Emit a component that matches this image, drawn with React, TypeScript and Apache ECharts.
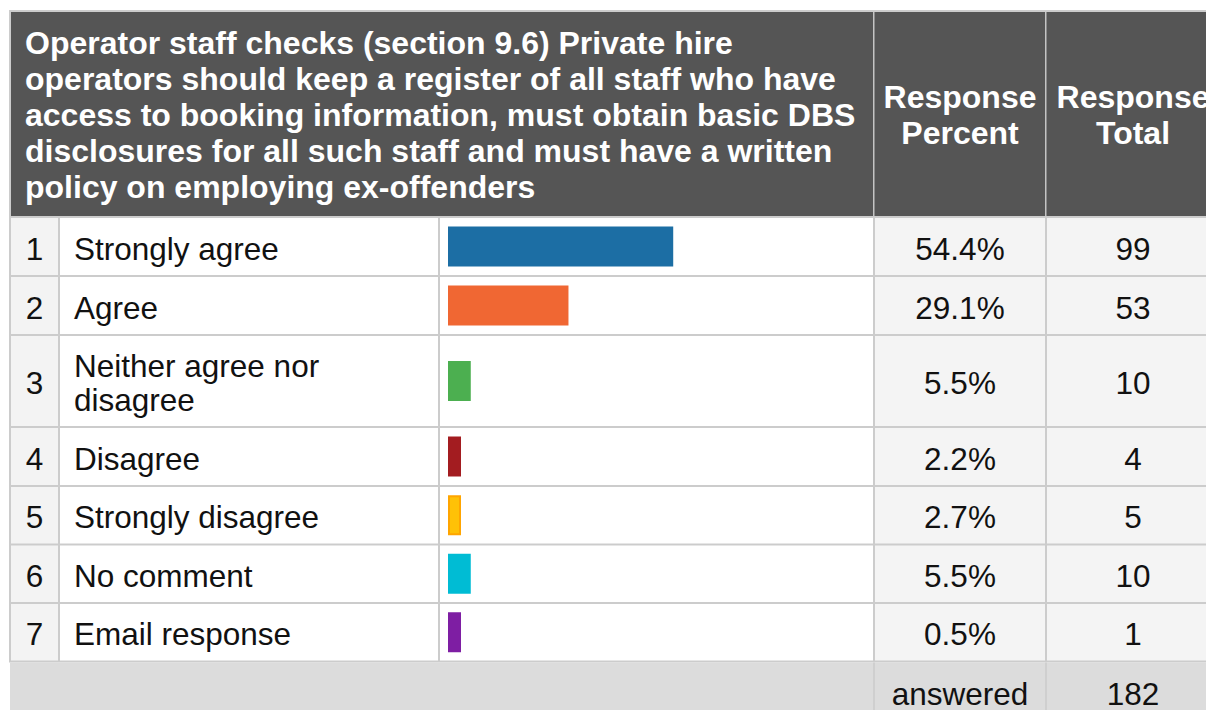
import React, { useEffect, useRef } from "react";
import * as echarts from "echarts";

// ---------- data ----------
const questionTitle =
  "Operator staff checks (section 9.6) Private hire\noperators should keep a register of all staff who have\naccess to booking information, must obtain basic DBS\ndisclosures for all such staff and must have a written\npolicy on employing ex-offenders";
const columnHeaders = ["Response\nPercent", "Response\nTotal"];
const answerNumbers = ["1", "2", "3", "4", "5", "6", "7"];
const answerLabels = [
  "Strongly agree",
  "Agree",
  "Neither agree nor\ndisagree",
  "Disagree",
  "Strongly disagree",
  "No comment",
  "Email response",
];
const responsePercent = [54.4, 29.1, 5.5, 2.2, 2.7, 5.5, 0.5];
const responseTotal = [99, 53, 10, 4, 5, 10, 1];
const answeredLabel = "answered";
const answeredTotal = 182;
const barColors = ["#1C6EA4", "#F06733", "#4CAF50", "#A31C20", "#FFC107", "#00BCD4", "#7E1EA3"];
const barBorders = ["", "", "", "", "#FFA500", "", ""];

// ---------- layout ----------
const FONT = '"Liberation Sans", Arial, Helvetica, sans-serif';
const FS = 31.5;
const FS_HEAD = 32;
const LINE = 2;
const X_LEFT = 9;
const X_NUM_END = 58;
const X_LABEL_END = 438;
const X_BAR_END = 873;
const X_PCT_END = 1045;
const X_RIGHT = 1240;
const Y_TOP = 10;
const Y_HEAD_END = 216;
const rowHeights = [59, 59, 92, 59, 58.5, 58.5, 58.5];
const BAR_LEFT = 448;
const BAR_SPAN = 414;
const TEXT_DY = 2;

export default function App() {
  const ref = useRef<HTMLDivElement>(null);

  useEffect(() => {
    if (!ref.current) return;
    const chart = echarts.init(ref.current, undefined, { renderer: "svg" });

    const rowTops: number[] = [];
    let y = Y_HEAD_END + LINE;
    rowHeights.forEach((h) => {
      rowTops.push(y);
      y += h;
    });
    const footTop = y;

    const txt = (text: string, x: number, yy: number, opts: any = {}) => ({
      type: "text",
      silent: true,
      z: 10,
      style: {
        text,
        x,
        y: yy,
        fill: opts.fill || "#111111",
        fontSize: opts.fontSize || FS,
        fontWeight: opts.fontWeight || "normal",
        fontFamily: FONT,
        lineHeight: opts.lineHeight || 34,
        textAlign: opts.align || "left",
        textVerticalAlign: "middle",
        align: opts.align || "left",
        verticalAlign: "middle",
      },
    });
    const rect = (x: number, yy: number, w: number, h: number, fill: string, z = 1) => ({
      type: "rect",
      silent: true,
      z,
      shape: { x, y: yy, width: w, height: h },
      style: { fill },
    });

    const graphics: any[] = [];
    graphics.push(rect(X_LEFT, Y_TOP, X_RIGHT - X_LEFT, footTop - Y_TOP, "#CCCCCC", 0));
    graphics.push(rect(X_LEFT + LINE, Y_TOP + LINE, X_RIGHT, Y_HEAD_END - Y_TOP - LINE, "#555555", 1));
    graphics.push(rect(X_BAR_END, Y_TOP + LINE, 1.5, Y_HEAD_END - Y_TOP - LINE, "#C4C4C4", 2));
    graphics.push(rect(X_PCT_END, Y_TOP + LINE, 1.5, Y_HEAD_END - Y_TOP - LINE, "#C4C4C4", 2));
    const headMid = (Y_TOP + LINE + Y_HEAD_END) / 2 + 1;
    graphics.push(
      txt(questionTitle, 25, headMid, { fill: "#FFFFFF", fontWeight: "bold", lineHeight: 36, fontSize: FS_HEAD })
    );
    graphics.push(
      txt(columnHeaders[0], (X_BAR_END + X_PCT_END + LINE) / 2, headMid, {
        fill: "#FFFFFF",
        fontWeight: "bold",
        lineHeight: 36,
        align: "center",
        fontSize: FS_HEAD,
      })
    );
    graphics.push(
      txt(columnHeaders[1], 1133, headMid, {
        fill: "#FFFFFF",
        fontWeight: "bold",
        lineHeight: 36,
        align: "center",
        fontSize: FS_HEAD,
      })
    );

    answerLabels.forEach((label, i) => {
      const top = rowTops[i];
      const h = rowHeights[i] - LINE;
      const mid = top + h / 2 + TEXT_DY;
      graphics.push(rect(X_LEFT + LINE, top, X_NUM_END - X_LEFT - LINE, h, "#F3F3F3"));
      graphics.push(rect(X_NUM_END + LINE, top, X_LABEL_END - X_NUM_END - LINE, h, "#FFFFFF"));
      graphics.push(rect(X_LABEL_END + LINE, top, X_BAR_END - X_LABEL_END - LINE, h, "#FFFFFF"));
      graphics.push(rect(X_BAR_END + LINE, top, X_PCT_END - X_BAR_END - LINE, h, "#F4F4F4"));
      graphics.push(rect(X_PCT_END + LINE, top, X_RIGHT - X_PCT_END, h, "#F4F4F4"));
      graphics.push(txt(answerNumbers[i], (X_LEFT + LINE + X_NUM_END) / 2, mid, { align: "center" }));
      graphics.push(txt(label, 74, mid, { lineHeight: 34 }));
      graphics.push(
        txt(responsePercent[i].toFixed(1) + "%", (X_BAR_END + LINE + X_PCT_END) / 2, mid, {
          align: "center",
        })
      );
      graphics.push(txt(String(responseTotal[i]), 1133, mid, { align: "center" }));
    });

    graphics.push(rect(X_LEFT + 1, footTop, X_RIGHT, 720 - footTop, "#DCDCDC", 1));
    graphics.push(rect(X_BAR_END, footTop, LINE, 720 - footTop, "#CFCFCF", 2));
    graphics.push(rect(X_PCT_END, footTop, LINE, 720 - footTop, "#CFCFCF", 2));
    const footMid = footTop + 31;
    graphics.push(txt(answeredLabel, (X_BAR_END + LINE + X_PCT_END) / 2, footMid, { align: "center" }));
    graphics.push(txt(String(answeredTotal), 1133, footMid, { align: "center" }));

    const grid: any[] = [];
    const xAxis: any[] = [];
    const yAxis: any[] = [];
    const series: any[] = [];
    answerLabels.forEach((label, i) => {
      grid.push({
        left: BAR_LEFT,
        width: BAR_SPAN,
        top: rowTops[i],
        height: rowHeights[i] - LINE,
        containLabel: false,
      });
      xAxis.push({ type: "value", gridIndex: i, min: 0, max: 100, show: false });
      yAxis.push({ type: "category", gridIndex: i, data: [label], show: false });
      series.push({
        type: "bar",
        xAxisIndex: i,
        yAxisIndex: i,
        barWidth: 40,
        barMinHeight: 13,
        z: 5,
        silent: true,
        data: [
          {
            value: responsePercent[i],
            itemStyle: {
              color: barColors[i],
              borderColor: barBorders[i] || barColors[i],
              borderWidth: barBorders[i] ? 2 : 0,
            },
          },
        ],
      });
    });

    chart.setOption({
      animation: false,
      backgroundColor: "#FFFFFF",
      grid,
      xAxis,
      yAxis,
      series,
      graphic: { elements: graphics },
    });

    return () => chart.dispose();
  }, []);

  return (
    <div
      ref={ref}
      style={{ position: "fixed", left: 0, top: 0, width: 1206, height: 710, overflow: "hidden" }}
    />
  );
}
